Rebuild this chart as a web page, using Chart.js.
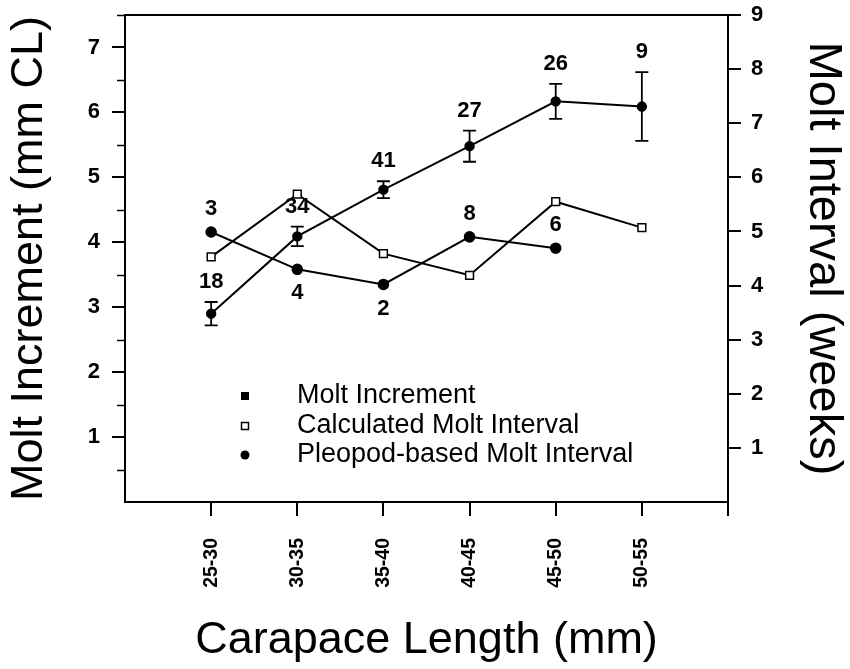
<!DOCTYPE html>
<html><head><meta charset="utf-8">
<script src="https://cdn.jsdelivr.net/npm/chart.js@4.4.0/dist/chart.umd.min.js"></script>
<style>html,body{margin:0;padding:0;background:#fff;overflow:hidden}</style>
</head><body>
<canvas id="c" width="850" height="669"></canvas>
<script>
const categories = ['25-30','30-35','35-40','40-45','45-50','50-55'];
const moltIncrement = [2.90, 4.09, 4.81, 5.48, 6.17, 6.09];
const moltIncrementErr = [0.18, 0.15, 0.13, 0.24, 0.27, 0.53];
const moltIncrementN = [18, 34, 41, 27, 26, 9];
const calcInterval = [4.53, 5.69, 4.59, 4.19, 5.55, 5.07];
const pleopodInterval = [4.99, 4.30, 4.02, 4.90, 4.69];
const pleopodN = [3, 4, 2, 8, 6];
const pleopodLabelSide = ['above','below','below','above','above'];
const leftTicks = [1,2,3,4,5,6,7];
const rightTicks = [1,2,3,4,5,6,7,8,9];
const legendLabels = ['Molt Increment','Calculated Molt Interval','Pleopod-based Molt Interval'];

const FONT = "'Liberation Sans', Arial, Helvetica, sans-serif";
Chart.defaults.color = '#000';

const pts = arr => arr.map((v,i)=>({x:i+1, y:v}));
const noPad = s => { s.paddingTop = 0; s.paddingBottom = 0; s.paddingLeft = 0; s.paddingRight = 0; };

const overlay = {
  id:'overlay',
  afterDatasetsDraw(chart){
    const {ctx, chartArea:a, scales:{x, yL, yR}} = chart;
    ctx.save();
    ctx.strokeStyle = '#000'; ctx.fillStyle = '#000';
    ctx.lineWidth = 2;
    ctx.beginPath(); ctx.moveTo(a.left, a.top); ctx.lineTo(a.right, a.top); ctx.stroke();
    ctx.lineWidth = 1.5;
    for (let v = 0.5; v <= 7.5; v += 1) {
      const py = Math.round(yL.getPixelForValue(v)) + 0.5;
      ctx.beginPath(); ctx.moveTo(a.left - 8, py); ctx.lineTo(a.left, py); ctx.stroke();
    }
    ctx.lineWidth = 1.8;
    moltIncrement.forEach((v,i)=>{
      const px = x.getPixelForValue(i+1);
      const t = yL.getPixelForValue(v + moltIncrementErr[i]);
      const b = yL.getPixelForValue(v - moltIncrementErr[i]);
      ctx.beginPath();
      ctx.moveTo(px, t); ctx.lineTo(px, b);
      ctx.moveTo(px-6.5, t); ctx.lineTo(px+6.5, t);
      ctx.moveTo(px-6.5, b); ctx.lineTo(px+6.5, b);
      ctx.stroke();
    });
    ctx.font = 'bold 22px ' + FONT;
    ctx.textAlign = 'center'; ctx.textBaseline = 'middle';
    moltIncrementN.forEach((n,i)=>{
      const px = x.getPixelForValue(i+1);
      const t = yL.getPixelForValue(moltIncrement[i] + moltIncrementErr[i]);
      ctx.fillText(String(n), px, t - 20);
    });
    pleopodN.forEach((n,i)=>{
      const px = x.getPixelForValue(i+1);
      const py = yR.getPixelForValue(pleopodInterval[i]);
      ctx.fillText(String(n), px, pleopodLabelSide[i] === 'above' ? py - 23 : py + 24);
    });
    const lx = a.left + 120, tx = a.left + 172;
    const rows = [a.top + 381, a.top + 411, a.top + 440];
    ctx.font = '27px ' + FONT; ctx.textAlign = 'left';
    legendLabels.forEach((lab,i)=>{ ctx.fillText(lab, tx, rows[i]); });
    ctx.fillRect(lx-4, rows[0]-4, 8, 8);
    ctx.lineWidth = 1.5; ctx.fillStyle='#fff';
    ctx.fillRect(lx-3.5, rows[1]-3.5, 7, 7); ctx.strokeRect(lx-3.5, rows[1]-3.5, 7, 7);
    ctx.fillStyle='#000';
    ctx.beginPath(); ctx.arc(lx, rows[2], 4.5, 0, Math.PI*2); ctx.fill();
    ctx.restore();
  }
};

new Chart(document.getElementById('c'), {
  type: 'line',
  data: { datasets: [
    { label: legendLabels[0], data: pts(moltIncrement), yAxisID: 'yL',
      borderColor: '#000', borderWidth: 2, pointStyle: 'circle', pointRadius: 4.2,
      pointBackgroundColor: '#000', pointBorderColor: '#000', tension: 0 },
    { label: legendLabels[1], data: pts(calcInterval), yAxisID: 'yR',
      borderColor: '#000', borderWidth: 2, pointStyle: 'rect', pointRadius: 5.5,
      pointBackgroundColor: '#fff', pointBorderColor: '#000', pointBorderWidth: 1.5, tension: 0 },
    { label: legendLabels[2], data: pts(pleopodInterval), yAxisID: 'yR',
      borderColor: '#000', borderWidth: 2, pointStyle: 'circle', pointRadius: 4.8,
      pointBackgroundColor: '#000', pointBorderColor: '#000', tension: 0 }
  ]},
  options: {
    responsive: false, animation: false, devicePixelRatio: 1,
    layout: { padding: { top: 15, left: 0, right: 0, bottom: 0 } },
    plugins: { legend: { display: false }, tooltip: { enabled: false } },
    scales: {
      x: { type: 'linear', position: 'bottom', min: 0, max: 7,
        afterBuildTicks: s => { s.ticks = categories.map((c,i)=>({value:i+1})).concat([{value:7}]); },
        afterFit: s => { s.height = 167; noPad(s); },
        ticks: { callback: v => categories[v-1] ?? '', autoSkip: false, minRotation: 90, maxRotation: 90,
          padding: 22, color: '#000', font: { family: FONT, size: 19.5, weight: 'bold' } },
        grid: { display: true, drawOnChartArea: false, drawTicks: true, tickLength: 14, color: '#000', lineWidth: 2 },
        border: { display: true, color: '#000', width: 2 },
        title: { display: true, text: 'Carapace Length (mm)', color: '#000',
          font: { family: FONT, size: 45, lineHeight: 1 }, padding: { top: 0, bottom: 6 } }
      },
      yL: { type: 'linear', position: 'left', min: 0, max: 7.5,
        afterBuildTicks: s => { s.ticks = leftTicks.map(v=>({value:v})); },
        afterFit: s => { s.width = 125; noPad(s); },
        ticks: { padding: 12, color: '#000', font: { family: FONT, size: 22, weight: 'bold' } },
        grid: { display: true, drawOnChartArea: false, drawTicks: true, tickLength: 13, color: '#000', lineWidth: 2 },
        border: { display: true, color: '#000', width: 2 },
        title: { display: true, text: 'Molt Increment (mm CL)', color: '#000',
          font: { family: FONT, size: 45, lineHeight: 1 }, padding: { top: 7, bottom: 0 } }
      },
      yR: { type: 'linear', position: 'right', min: 0, max: 9,
        afterBuildTicks: s => { s.ticks = rightTicks.map(v=>({value:v})); },
        afterFit: s => { s.width = 122; noPad(s); },
        ticks: { padding: 10, color: '#000', font: { family: FONT, size: 22, weight: 'bold' } },
        grid: { display: true, drawOnChartArea: false, drawTicks: true, tickLength: 13, color: '#000', lineWidth: 2 },
        border: { display: true, color: '#000', width: 2 },
        title: { display: true, text: 'Molt Interval (weeks)', color: '#000',
          font: { family: FONT, size: 47, lineHeight: 1 }, padding: { top: 4, bottom: 0 } }
      }
    }
  },
  plugins: [overlay]
});
</script>
</body></html>
